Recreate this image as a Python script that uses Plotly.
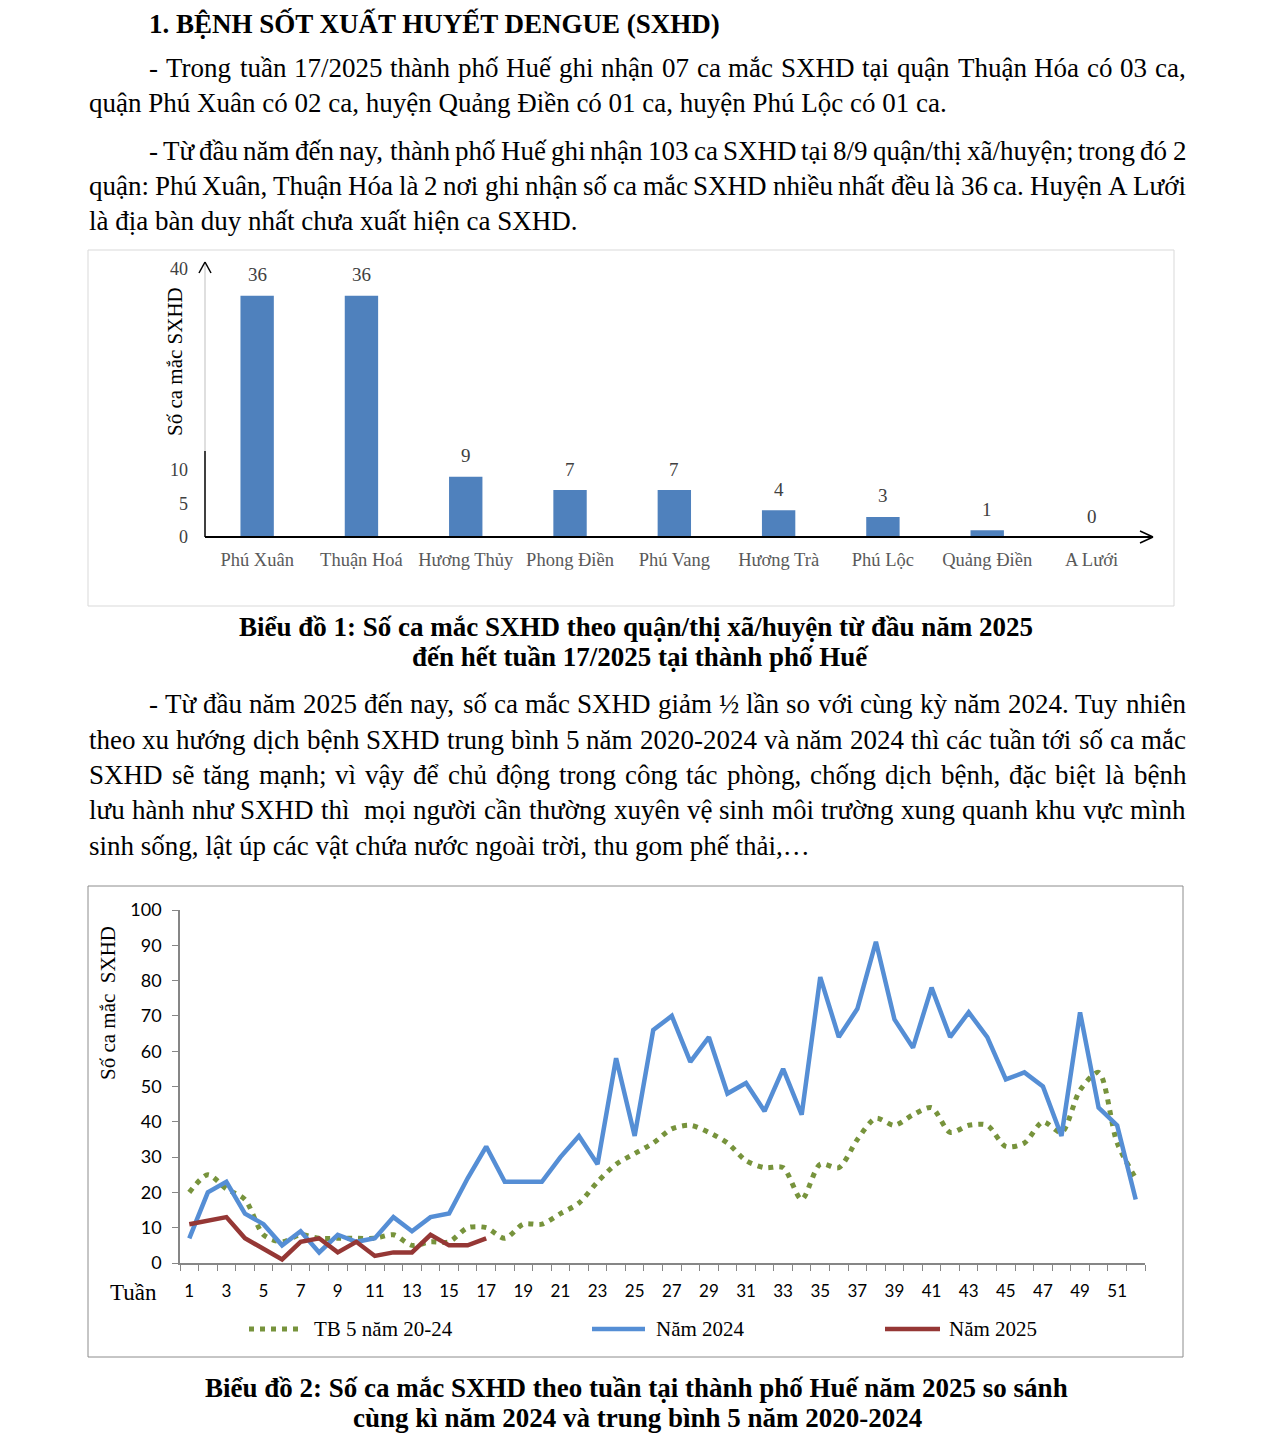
import unicodedata
import plotly.graph_objects as go

W, H = 1274, 1437
OX, OY = 8, 8  # page body offset compensation

# ---------------- data ----------------
districts = ["Phú Xuân", "Thuận Hoá", "Hương Thủy", "Phong Điền", "Phú Vang",
             "Hương Trà", "Phú Lộc", "Quảng Điền", "A Lưới"]
district_cases = [36, 36, 9, 7, 7, 4, 3, 1, 0]
bar_yticks = [0, 5, 10, 40]

weeks = list(range(1, 53))
tb5_2020_2024 = [20, 25, 21, 18, 8, 6, 8, 7, 7, 7,
                 7, 8, 5, 6, 6, 10, 10, 7, 11, 11,
                 14, 17, 23, 28, 31, 34, 38, 39, 37, 34,
                 29, 27, 27, 18, 28, 27, 35, 41, 39, 42,
                 44, 37, 39, 39, 33, 34, 40, 37, 49, 54,
                 34, 24]
year_2024 = [7, 20, 23, 14, 11, 5, 9, 3, 8, 6,
             7, 13, 9, 13, 14, 24, 33, 23, 23, 23,
             30, 36, 28, 58, 36, 66, 70, 57, 64, 48,
             51, 43, 55, 42, 81, 64, 72, 91, 69, 61,
             78, 64, 71, 64, 52, 54, 50, 36, 71, 44,
             39, 18]
weeks_2025 = list(range(1, 18))
year_2025 = [11, 12, 13, 7, 4, 1, 6, 7, 3, 6, 2, 3, 3, 8, 5, 5, 7]
week_ticks = list(range(1, 52, 2))
line_names = ["TB 5 năm 20-24", "Năm 2024", "Năm 2025"]

GREEN, BLUE, RED = "#77933C", "#558ED5", "#953735"
SERIF = "Liberation Serif"
BODY = 27
RIGHT = 1185

# Times/Liberation Serif advance widths (1/1000 em) used to justify text lines
_TW = {" ": 250, ",": 250, ".": 250, "-": 333, "/": 278, ":": 278, ";": 278, "(": 333, ")": 333}
_TW.update({d: 500 for d in "0123456789"})
_TW.update(dict(zip("ABCDEFGHIJKLMNOPQRSTUVWXYZ",
                    [722, 667, 667, 722, 611, 556, 722, 722, 333, 389, 722, 611, 889,
                     722, 722, 556, 722, 667, 556, 611, 722, 722, 944, 722, 722, 611])))
_TW.update(dict(zip("abcdefghijklmnopqrstuvwxyz",
                    [444, 500, 444, 500, 444, 333, 500, 500, 278, 278, 500, 278, 778,
                     500, 500, 500, 500, 333, 389, 278, 500, 500, 722, 500, 500, 444])))
_SPECIAL = {"đ": 500, "Đ": 722, "½": 750, "…": 1000}


def char_w(ch):
    if ch in _SPECIAL:
        return _SPECIAL[ch]
    d = unicodedata.normalize("NFD", ch)
    w = _TW.get(d[0], 500)
    if "\u031b" in d:
        w += 40
    return w


def text_w(s, size=BODY):
    return sum(char_w(c) for c in s) / 1000 * size


def px(x):
    return (x - OX) / W


def py(y):
    return 1 - (y - OY) / H


fig = go.Figure()

# ---------------- chart 1 (bars) ----------------
fig.add_trace(go.Bar(x=districts, y=district_cases, marker_color="#4F81BD",
                     marker_line_width=0, width=0.32, xaxis="x", yaxis="y",
                     showlegend=False, hoverinfo="x+y"))

# ---------------- chart 2 (lines) ----------------
fig.add_trace(go.Scatter(x=weeks, y=tb5_2020_2024, mode="lines", name=line_names[0],
                         line=dict(color=GREEN, width=5, dash="5px,6px",
                                   shape="spline", smoothing=0.8),
                         xaxis="x2", yaxis="y2", showlegend=False))
fig.add_trace(go.Scatter(x=weeks, y=year_2024, mode="lines", name=line_names[1],
                         line=dict(color=BLUE, width=4.5),
                         xaxis="x2", yaxis="y2", showlegend=False))
fig.add_trace(go.Scatter(x=weeks_2025, y=year_2025, mode="lines", name=line_names[2],
                         line=dict(color=RED, width=4.5),
                         xaxis="x2", yaxis="y2", showlegend=False))

annotations = []
shapes = []


def text(x, y, s, size=BODY, bold=False, anchor="left", color="black", family=SERIF, angle=0):
    if bold:
        s = "<b>" + s + "</b>"
    annotations.append(dict(x=px(x), y=py(y), xref="paper", yref="paper", text=s,
                            showarrow=False, xanchor=anchor, yanchor="middle",
                            textangle=angle, borderpad=0,
                            font=dict(family=family, size=size, color=color)))


def justified(y, x0, s, x1=RIGHT, size=BODY):
    tokens = s.split(" ")
    widths = [text_w(t, size) for t in tokens]
    gaps = len(tokens) - 1
    space = text_w(" ", size)
    extra = (x1 - x0 - sum(widths) - gaps * space) / gaps
    x = x0
    for t, w in zip(tokens, widths):
        if t:
            text(x, y, t, size=size)
        x += w + space + extra


def line(x0, y0, x1, y1, color="black", width=1, dash=None):
    d = dict(type="line", xref="paper", yref="paper", x0=px(x0), y0=py(y0),
             x1=px(x1), y1=py(y1), line=dict(color=color, width=width))
    if dash:
        d["line"]["dash"] = dash
    shapes.append(d)


# ---- document text ----
text(148, 23, "1. BỆNH SỐT XUẤT HUYẾT DENGUE (SXHD)", bold=True)
justified(68, 148, "- Trong tuần 17/2025 thành phố Huế ghi nhận 07 ca mắc SXHD tại quận Thuận Hóa có 03 ca,")
text(88, 103, "quận Phú Xuân có 02 ca, huyện Quảng Điền có 01 ca, huyện Phú Lộc có 01 ca.")
justified(151, 148, "- Từ đầu năm đến nay, thành phố Huế ghi nhận 103 ca SXHD tại 8/9 quận/thị xã/huyện; trong đó 2")
justified(186, 88, "quận: Phú Xuân, Thuận Hóa là 2 nơi ghi nhận số ca mắc SXHD nhiều nhất đều là 36 ca. Huyện A Lưới")
text(88, 221, "là địa bàn duy nhất chưa xuất hiện ca SXHD.")

text(636, 627, "Biểu đồ 1: Số ca mắc SXHD theo quận/thị xã/huyện từ đầu năm 2025", bold=True, anchor="center")
text(640, 657, "đến hết tuần 17/2025 tại thành phố Huế", bold=True, anchor="center")

justified(704, 148, "- Từ đầu năm 2025 đến nay, số ca mắc SXHD giảm ½ lần so với cùng kỳ năm 2024. Tuy nhiên")
justified(740, 88, "theo xu hướng dịch bệnh SXHD trung bình 5 năm 2020-2024 và năm 2024 thì các tuần tới số ca mắc")
justified(775, 88, "SXHD sẽ tăng mạnh; vì vậy để chủ động trong công tác phòng, chống dịch bệnh, đặc biệt là bệnh")
justified(810, 88, "lưu hành như SXHD thì  mọi người cần thường xuyên vệ sinh môi trường xung quanh khu vực mình")
text(88, 846, "sinh sống, lật úp các vật chứa nước ngoài trời, thu gom phế thải,…")

text(636, 1388, "Biểu đồ 2: Số ca mắc SXHD theo tuần tại thành phố Huế năm 2025 so sánh", bold=True, anchor="center")
text(637, 1418, "cùng kì năm 2024 và trung bình 5 năm 2020-2024", bold=True, anchor="center")

# ---- chart 1 decorations ----
shapes.append(dict(type="rect", xref="paper", yref="paper", x0=px(88), y0=py(606),
                   x1=px(1174), y1=py(250), line=dict(color="#D9D9D9", width=1)))
line(205, 537, 205, 451, color="black", width=1.5)
line(205, 451, 205, 263, color="#BFBFBF", width=1)
line(199, 273, 205, 262, color="black", width=1.5)
line(211, 273, 205, 262, color="black", width=1.5)
line(205, 537, 1152, 537, color="black", width=2)
line(1140, 531, 1153, 537, color="black", width=1.5)
line(1140, 543, 1153, 537, color="black", width=1.5)
text(175, 362, "Số ca mắc SXHD", size=21, angle=-90, anchor="center")

for d, v in zip(districts, district_cases):
    annotations.append(dict(x=d, y=v, xref="x", yref="y", text=str(v), showarrow=False,
                            yshift=21, xanchor="center", yanchor="middle",
                            font=dict(family=SERIF, size=19, color="#404040")))

# ---- chart 2 decorations ----
shapes.append(dict(type="rect", xref="paper", yref="paper", x0=px(88), y0=py(1357),
                   x1=px(1183), y1=py(886), line=dict(color="#8C8C8C", width=1)))
text(133, 1292, "Tuần", size=23, anchor="center")
text(108, 1003, "Số ca mắc  SXHD", size=21, angle=-90, anchor="center")

# legend
line(249, 1329, 303, 1329, color=GREEN, width=5, dash="5px,6px")
text(313, 1329, line_names[0], size=21)
line(592, 1329, 645, 1329, color=BLUE, width=4.5)
text(655, 1329, line_names[1], size=21)
line(885, 1329, 940, 1329, color=RED, width=4.5)
text(948, 1329, line_names[2], size=21)

fig.update_layout(
    width=W, height=H, margin=dict(l=0, r=0, t=0, b=0, pad=0, autoexpand=False),
    paper_bgcolor="white", plot_bgcolor="rgba(0,0,0,0)",
    showlegend=False, annotations=annotations, shapes=shapes,
    xaxis=dict(domain=[px(205), px(1152)], range=[-0.5, 8.58], type="category",
               showgrid=False, zeroline=False, showline=False, ticks="",
               ticklabelstandoff=9, automargin=False,
               tickfont=dict(family=SERIF, size=18.5, color="#595959"), fixedrange=True),
    yaxis=dict(domain=[py(537), py(269)], range=[0, 40], tickmode="array",
               tickvals=bar_yticks, showgrid=False, zeroline=False, showline=False,
               ticks="", ticklabelstandoff=16, automargin=False,
               tickfont=dict(family=SERIF, size=18, color="#404040"), fixedrange=True),
    xaxis2=dict(domain=[px(180), px(1145)], range=[0.5, 52.5], anchor="y2",
                tickmode="array", tickvals=week_ticks, ticks="outside", ticklen=0,
                minor=dict(tickmode="linear", tick0=0.5, dtick=1, ticks="outside",
                           ticklen=6, tickcolor="#868686", tickwidth=1, showgrid=False),
                showgrid=False, zeroline=False, showline=True, linecolor="#868686",
                linewidth=1.5, ticklabelstandoff=12, automargin=False,
                tickfont=dict(family="Lato", size=17, color="black"), fixedrange=True),
    yaxis2=dict(domain=[py(1263), py(910)], range=[0, 100], anchor="x2",
                tickmode="linear", tick0=0, dtick=10, ticks="outside", ticklen=6,
                tickcolor="#868686", showgrid=False, zeroline=False, showline=True,
                linecolor="#868686", linewidth=1.5, ticklabelstandoff=7, automargin=False,
                tickfont=dict(family="Lato", size=18, color="black"), fixedrange=True),
)

fig.write_html("out.html")
